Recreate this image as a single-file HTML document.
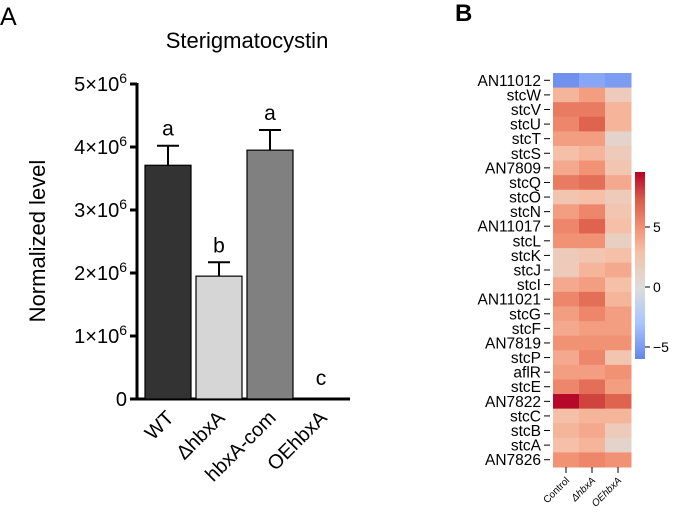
<!DOCTYPE html>
<html><head><meta charset="utf-8">
<style>
html,body{margin:0;padding:0;background:#fff;}
svg{display:block;font-family:"Liberation Sans",Arial,sans-serif;}
</style></head>
<body>
<svg id="fig" width="676" height="517" viewBox="0 0 676 517">
<text x="0" y="25" font-size="25">A</text>
<text x="455" y="21" font-size="24" font-weight="bold">B</text>
<text x="247" y="48" font-size="22" text-anchor="middle">Sterigmatocystin</text>
<text transform="translate(45,241) rotate(-90)" font-size="22" text-anchor="middle">Normalized level</text>
<g id="bars"></g>
<g id="heat"></g>
<defs>
<linearGradient id="cbg" x1="0" y1="1" x2="0" y2="0">
<stop offset="0" stop-color="#6485ec"/>
<stop offset="0.19" stop-color="#a7c5fe"/>
<stop offset="0.38" stop-color="#dcdddd"/>
<stop offset="0.57" stop-color="#f5c0a7"/>
<stop offset="0.70" stop-color="#f29274"/>
<stop offset="0.86" stop-color="#d95847"/>
<stop offset="1" stop-color="#b40426"/>
</linearGradient>
</defs>
</svg>
<script>
const NS='http://www.w3.org/2000/svg';
const barCategories=['WT','ΔhbxA','hbxA-com','OEhbxA'];
const barValues=[3.71,1.95,3.95,0];
const barErrors=[0.31,0.22,0.32,0];
const barLetters=['a','b','a','c'];
const barFills=['#333333','#d6d6d6','#808080','#ffffff'];
const yTicks=[0,1,2,3,4,5];

const heatRows=['AN11012','stcW','stcV','stcU','stcT','stcS','AN7809','stcQ','stcO','stcN','AN11017','stcL','stcK','stcJ','stcI','AN11021','stcG','stcF','AN7819','stcP','aflR','stcE','AN7822','stcC','stcB','stcA','AN7826'];
const heatCols=['Control','ΔhbxA','OEhbxA'];
const heatControl=[-5.5,3.5,6,5.5,4.5,3,4,6,2.5,4.5,5.5,5,2,2,4,5.5,4.5,4,5,4,4.5,5.5,9.5,3,3.5,3,5];
const heatDelta=[-4.5,4.5,6,7,4.5,3.5,5,6.5,3,5.5,7,5,2.5,3.5,4.5,6.5,5.5,4.5,5,5.5,4.5,6.5,8,3.5,4,3.5,5.5];
const heatOE=[-5,2,3.5,3.5,1,2,2.5,4,2,2.5,3,1.5,3,4,3,3.5,4.5,4.5,5,2.5,5,4.5,7,3.5,2,1,5];
const cbTicks=[-5,0,5];

function el(tag,attrs,parent){const e=document.createElementNS(NS,tag);for(const k in attrs)e.setAttribute(k,attrs[k]);parent.appendChild(e);return e;}

const bars=document.getElementById('bars');
const y0=399,pxPer=63;
const yS=v=>y0-v*pxPer;
const xC=i=>168+i*51;
const bw=46;
el('line',{x1:137,y1:yS(5)-1,x2:137,y2:y0+1.5,stroke:'#000','stroke-width':3},bars);
el('line',{x1:136,y1:y0,x2:350,y2:y0,stroke:'#000','stroke-width':3},bars);
yTicks.forEach(t=>{
  const y=yS(t);
  const tk=el('line',{x1:130,y1:y,x2:137,y2:y,stroke:'#000','stroke-width':3},bars);
  
  
  const tx=el('text',{x:127,y:y+7,'font-size':20,'text-anchor':'end'},bars);
  
  
  if(t===0){tx.textContent='0';}
  else{tx.textContent=t+'×10';const s=el('tspan',{dy:-8,'font-size':14},tx);s.textContent='6';}
});
barCategories.forEach((c,i)=>{
  const cx=xC(i),v=barValues[i],e=barErrors[i];
  if(v>0){
    const r=el('rect',{x:cx-bw/2,y:yS(v),width:bw,height:y0-yS(v),fill:barFills[i],stroke:'#000','stroke-width':1.2},bars);
    
    
    const eb=el('path',{d:`M${cx},${yS(v)} V${yS(v+e)} M${cx-11},${yS(v+e)} H${cx+11}`,stroke:'#000','stroke-width':2,fill:'none'},bars);
    
    
  }
  const ly=v>0?yS(v+e)-10:yS(0)-14;
  const lt=el('text',{x:cx,y:ly,'font-size':21,'text-anchor':'middle'},bars);
  
  
  lt.textContent=barLetters[i];
  const xl=el('text',{x:0,y:0,'font-size':20,'text-anchor':'end',transform:`translate(${cx+7},${419}) rotate(-45)`},bars);
  
  
  xl.textContent=c;
});

const heat=document.getElementById('heat');
const hx0=553,hy0=73,cw=26,rh=394/27;
const stops=[[-6.1,[100,133,236]],[-3,[167,197,254]],[0,[220,221,221]],[3,[245,192,167]],[5,[242,146,116]],[7.5,[217,88,71]],[9.6,[180,4,38]]];
function color(v){
  if(v<=stops[0][0])return 'rgb('+stops[0][1]+')';
  for(let i=1;i<stops.length;i++){if(v<=stops[i][0]){const a=stops[i-1],b=stops[i],t=(v-a[0])/(b[0]-a[0]);return 'rgb('+a[1].map((c,k)=>Math.round(c+(b[1][k]-c)*t)).join(',')+')';}}
  return 'rgb('+stops[stops.length-1][1]+')';
}
const cols=[heatControl,heatDelta,heatOE];
heatRows.forEach((r,j)=>{
  const y=hy0+j*rh;
  cols.forEach((arr,i)=>{
    const c=el('rect',{x:hx0+i*cw,y:y,width:cw+0.5,height:rh+0.5,fill:color(arr[j])},heat);
    
    
  });
  const tk=el('line',{x1:544,y1:y+rh/2,x2:550,y2:y+rh/2,stroke:'#000','stroke-width':1},heat);
  
  
  const t=el('text',{x:541,y:y+rh/2+5.5,'font-size':15.5,'text-anchor':'end'},heat);
  
  
  t.textContent=r;
});
heatCols.forEach((c,i)=>{
  const cx=hx0+i*cw+cw/2;
  const tk=el('line',{x1:cx,y1:467,x2:cx,y2:473,stroke:'#000','stroke-width':1},heat);
  
  
  const t=el('text',{x:0,y:0,'font-size':10,'text-anchor':'end','font-style':i>0?'italic':'normal',transform:`translate(${cx+4},${481}) rotate(-45)`},heat);
  
  
  t.textContent=c;
});
const cbTop=172,cbBot=359,cbZero=287,cbPer=12;
const cb=el('rect',{x:635,y:cbTop,width:10,height:cbBot-cbTop,fill:'url(#cbg)'},heat);


cbTicks.forEach(v=>{
  const y=cbZero-v*cbPer;
  const tk=el('line',{x1:645,y1:y,x2:650,y2:y,stroke:'#000','stroke-width':1},heat);
  
  
  const t=el('text',{x:653,y:y+5,'font-size':14},heat);
  
  
  t.textContent=v<0?'−'+Math.abs(v):String(v);
});
</script>
</body></html>
